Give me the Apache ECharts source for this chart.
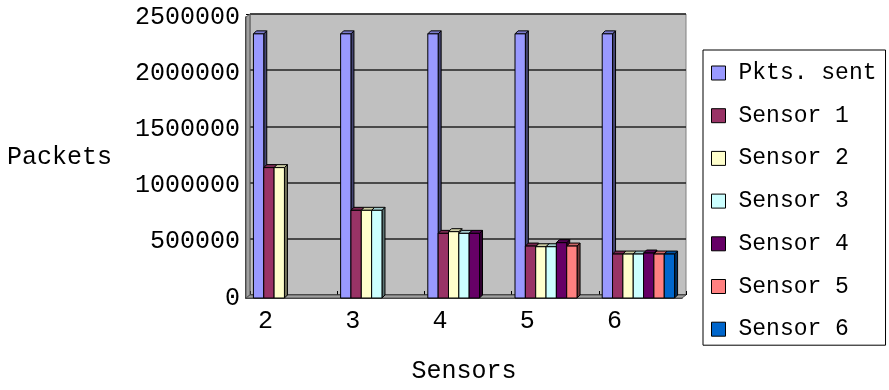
<!DOCTYPE html>
<html>
<head>
<meta charset="utf-8">
<script src="https://cdn.jsdelivr.net/npm/echarts@6/dist/echarts.min.js"></script>
<style>
  html, body { margin: 0; padding: 0; background: #ffffff; }
  #chart { width: 889px; height: 390px; }
</style>
</head>
<body>
<div id="chart"></div>
<script>
// Number of sensors in each run (x categories)
const categories = ['2', '3', '4', '5', '6'];

// Packets sent and received per sensor
const seriesNames = ['Pkts. sent', 'Sensor 1', 'Sensor 2', 'Sensor 3', 'Sensor 4', 'Sensor 5', 'Sensor 6'];
const pktsSent = [2350000, 2350000, 2350000, 2350000, 2350000];
const sensor1 = [1160000, 780000, 575000, 462000, 391000];
const sensor2 = [1160000, 780000, 590000, 456000, 391000];
const sensor3 = [null, 780000, 575000, 456000, 391000];
const sensor4 = [null, null, 575000, 492000, 400000];
const sensor5 = [null, null, null, 462000, 391000];
const sensor6 = [null, null, null, null, 391000];
const seriesValues = [pktsSent, sensor1, sensor2, sensor3, sensor4, sensor5, sensor6];

// Value axis
const yMin = 0;
const yMax = 2500000;
const yStep = 500000;

const palette = ['#9999FF', '#993366', '#FFFFCC', '#CCFFFF', '#660066', '#FF8080', '#0066CC'];

const FONT = 'Liberation Mono';
const DEPTH = 3;          // 3-D offset of bar side/top faces, px
const BAR_SPAN = 0.83;    // share of a category band used by the bar cluster

// plot box (front plane) and back wall offset
const plot = { left: 246, top: 17, width: 436, height: 281 };
const wallShift = { x: 4, y: -3 };

function shade(hex, f) {
  const n = parseInt(hex.slice(1), 16);
  const r = (n >> 16) & 255, g = (n >> 8) & 255, b = n & 255;
  const c = v => Math.max(0, Math.min(255, Math.round(v * f)));
  return 'rgb(' + c(r) + ',' + c(g) + ',' + c(b) + ')';
}

function makeRenderer(idx, color) {
  const n = seriesNames.length;
  return function (params, api) {
    const v = api.value(1);
    if (v === null || v === undefined || isNaN(v)) return;
    const cat = api.value(0);
    const base = api.coord([cat, 0]);
    const top = api.coord([cat, v]);
    const band = api.size([1, 0])[0];
    const w = band * BAR_SPAN / n;
    const x0 = base[0] - band * BAR_SPAN / 2 + idx * w;
    const x1 = x0 + w;
    const yT = top[1], yB = base[1];
    const d = DEPTH;
    const line = { stroke: '#000', lineWidth: 1 };
    return {
      type: 'group',
      children: [
        {
          type: 'polygon',
          shape: { points: [[x1, yT], [x1 + d, yT - d], [x1 + d, yB - d], [x1, yB]] },
          style: Object.assign({ fill: shade(color, 0.45) }, line)
        },
        {
          type: 'polygon',
          shape: { points: [[x0, yT], [x0 + d, yT - d], [x1 + d, yT - d], [x1, yT]] },
          style: Object.assign({ fill: shade(color, 0.8) }, line)
        },
        {
          type: 'rect',
          shape: { x: x0, y: yT, width: w, height: yB - yT },
          style: Object.assign({ fill: color }, line)
        }
      ]
    };
  };
}

const series = seriesNames.map((name, i) => ({
  name: name,
  type: 'custom',
  xAxisIndex: 1,
  yAxisIndex: 1,
  itemStyle: { color: palette[i], borderColor: '#000', borderWidth: 1 },
  renderItem: makeRenderer(i, palette[i]),
  encode: { x: 0, y: 1 },
  data: seriesValues[i].map((v, c) => [c, v]).filter(p => p[1] !== null),
  z: 3
}));

const chart = echarts.init(document.getElementById('chart'), null, { renderer: 'canvas' });

const back = {
  left: plot.left + wallShift.x,
  top: plot.top + wallShift.y,
  width: plot.width,
  height: plot.height
};

chart.setOption({
  animation: false,
  backgroundColor: '#ffffff',
  textStyle: { fontFamily: FONT, color: '#000' },
  graphic: [
    // left wall
    {
      type: 'polygon',
      z: 1,
      shape: { points: [
        [plot.left, plot.top + plot.height],
        [back.left, back.top + back.height],
        [back.left, back.top],
        [plot.left, plot.top]
      ] },
      style: { fill: '#A0A0A0', stroke: '#555', lineWidth: 1 }
    },
    // floor
    {
      type: 'polygon',
      z: 1,
      shape: { points: [
        [plot.left, plot.top + plot.height],
        [plot.left + plot.width, plot.top + plot.height],
        [back.left + back.width, back.top + back.height],
        [back.left, back.top + back.height]
      ] },
      style: { fill: '#A0A0A0', stroke: '#555', lineWidth: 1 }
    }
  ],
  grid: [
    {
      left: back.left, top: back.top, width: back.width, height: back.height,
      show: true, backgroundColor: '#C0C0C0', borderColor: '#808080', borderWidth: 1,
      z: 0
    },
    {
      left: plot.left, top: plot.top, width: plot.width, height: plot.height,
      show: false
    }
  ],
  xAxis: [
    {
      gridIndex: 0, type: 'category', data: categories,
      axisLine: { show: false },
      axisTick: { show: true, inside: true, length: 4, lineStyle: { color: '#000' } },
      axisLabel: { show: false }
    },
    {
      gridIndex: 1, type: 'category', data: categories,
      axisLine: { show: true, lineStyle: { color: '#000', width: 1.5 } },
      axisTick: { show: false },
      axisLabel: {
        show: true, fontFamily: FONT, fontSize: 25, color: '#000', margin: 11,
        padding: [0, 48, 0, 0]
      },
      name: 'Sensors', nameLocation: 'middle', nameGap: 61,
      nameTextStyle: { fontFamily: FONT, fontSize: 25, color: '#000' }
    }
  ],
  yAxis: [
    {
      gridIndex: 0, type: 'value', min: yMin, max: yMax, interval: yStep,
      axisLine: { show: false },
      axisTick: { show: true, length: 4, lineStyle: { color: '#000' } },
      axisLabel: { show: false },
      splitLine: { show: true, lineStyle: { color: '#222', width: 1.5 } }
    },
    {
      gridIndex: 1, type: 'value', min: yMin, max: yMax, interval: yStep,
      axisLine: { show: true, lineStyle: { color: '#000', width: 1.5 } },
      axisTick: { show: false },
      splitLine: { show: false },
      axisLabel: {
        show: true, fontFamily: FONT, fontSize: 25, color: '#000', margin: 6,
        formatter: v => String(v)
      },
      name: 'Packets', nameLocation: 'middle', nameRotate: 0, nameGap: 134,
      nameTextStyle: { fontFamily: FONT, fontSize: 25, color: '#000' }
    }
  ],
  legend: {
    orient: 'vertical',
    left: 703, top: 50,
    data: seriesNames,
    backgroundColor: '#ffffff',
    borderColor: '#000', borderWidth: 1,
    padding: [11, 9, 4, 8],
    itemWidth: 14, itemHeight: 14, itemGap: 18.7,
    icon: 'rect',
    itemStyle: { borderColor: '#000', borderWidth: 1 },
    textStyle: { fontFamily: FONT, fontSize: 23, color: '#000', lineHeight: 24, padding: [0, 0, 0, 8] },
    selectedMode: false
  },
  series: series
});
</script>
</body>
</html>
